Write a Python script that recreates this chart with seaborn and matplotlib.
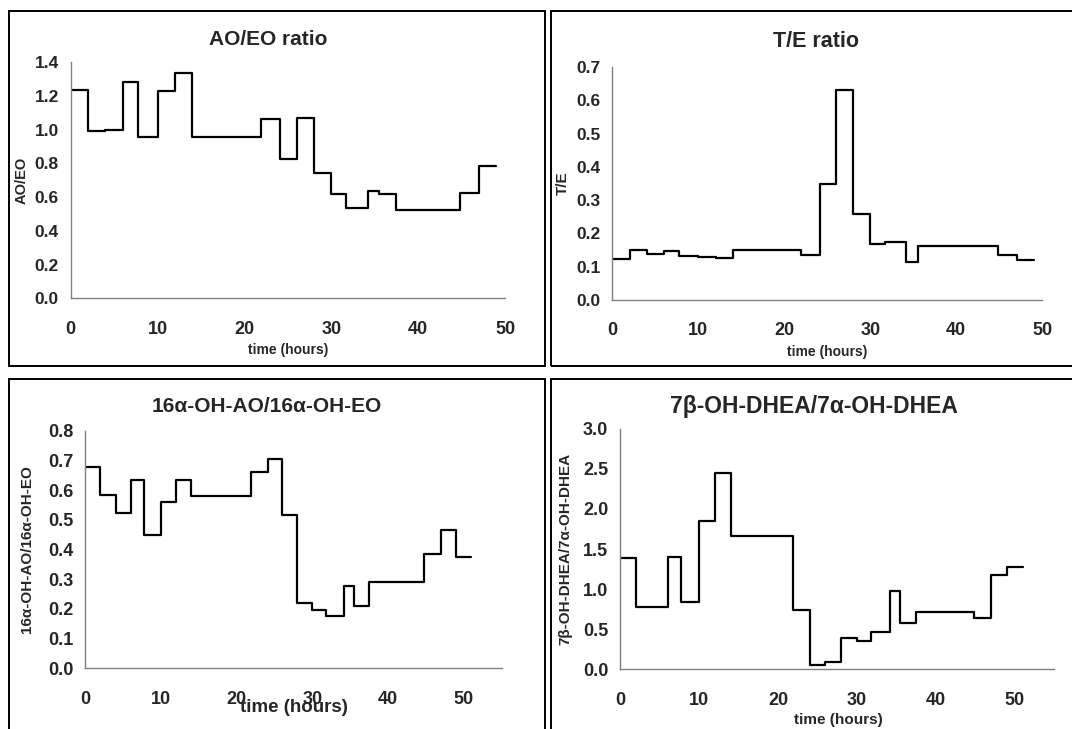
import numpy as np
import pandas as pd
import matplotlib
matplotlib.use("Agg")
import matplotlib.pyplot as plt
from matplotlib.patches import Rectangle
from matplotlib.ticker import FormatStrFormatter, MultipleLocator
import seaborn as sns

# ---------------- data ----------------
t_top = [0, 2, 4, 6, 7.75, 10, 12, 14, 21.9, 24.1, 26, 28, 30, 31.75, 34.2, 35.5, 37.5, 44.8, 47, 49]
ao_eo = [1.234, 0.995, 1.0, 1.285, 0.955, 1.232, 1.335, 0.959, 1.066, 0.827, 1.072,
         0.744, 0.621, 0.534, 0.639, 0.621, 0.524, 0.627, 0.787]
t_e = [0.124, 0.151, 0.137, 0.148, 0.132, 0.129, 0.126, 0.151, 0.135, 0.349, 0.63,
       0.257, 0.167, 0.175, 0.114, 0.162, 0.162, 0.135, 0.12]

t_bot = [0, 2, 4, 6, 7.75, 10, 12, 14, 21.9, 24.1, 26, 28, 30, 31.75, 34.2, 35.5, 37.5, 44.8, 47, 49, 51]
oh16 = [0.678, 0.582, 0.524, 0.634, 0.45, 0.561, 0.634, 0.579, 0.66, 0.704, 0.515,
        0.22, 0.196, 0.175, 0.277, 0.211, 0.29, 0.386, 0.465, 0.374]
dhea7 = [1.392, 0.781, 0.781, 1.404, 0.839, 1.849, 2.451, 1.662, 0.735, 0.054, 0.087,
         0.39, 0.357, 0.461, 0.98, 0.582, 0.719, 0.636, 1.176, 1.28]

titles = ["AO/EO ratio", "T/E ratio", "16\u03b1-OH-AO/16\u03b1-OH-EO", "7\u03b2-OH-DHEA/7\u03b1-OH-DHEA"]
ylabels = ["AO/EO", "T/E", "16\u03b1-OH-AO/16\u03b1-OH-EO", "7\u03b2-OH-DHEA/7\u03b1-OH-DHEA"]
xlabel = "time (hours)"

# ---------------- style ----------------
sns.set_style("white")
plt.rcParams["font.family"] = ["Liberation Sans", "DejaVu Sans"]
plt.rcParams["font.weight"] = "bold"

W, H = 1072, 729
fig = plt.figure(figsize=(W / 100, H / 100), dpi=100)

def px_axes(x0, x1, y_top, y_bot):
    return fig.add_axes([x0 / W, 1 - y_bot / H, (x1 - x0) / W, (y_bot - y_top) / H])

panels = [
    dict(edges=t_top, vals=ao_eo, ax=(70.7, 505.0, 62.3, 298.3), xmax=50, ymax=1.4, ystep=0.2,
         title_xy=(268.5, 39.5), tsize=15, xl=(0.5, -0.219, 10), yl=(-0.112, 10.5), xtick=13, ytick=12.5),
    dict(edges=t_top, vals=t_e, ax=(612.3, 1042.3, 67.0, 300.0), xmax=50, ymax=0.7, ystep=0.1,
         title_xy=(815.8, 41.7), tsize=15.5, xl=(0.5, -0.222, 10), yl=(-0.116, 11), xtick=13, ytick=12.5),
    dict(edges=t_bot, vals=oh16, ax=(85.3, 501.7, 430.7, 668.3), xmax=55, ymax=0.8, ystep=0.1,
         title_xy=(267.0, 406.7), tsize=15, xl=(0.5, -0.165, 13.5), yl=(-0.141, 11), xtick=13, ytick=13),
    dict(edges=t_bot, vals=dhea7, ax=(620.3, 1054.3, 428.7, 669.3), xmax=55, ymax=3.0, ystep=0.5,
         title_xy=(813.7, 406.0), tsize=16.5, xl=(0.502, -0.211, 11), yl=(-0.127, 11), xtick=13, ytick=13),
]

gray = "#808080"
for i, p in enumerate(panels):
    ax = px_axes(*p["ax"])
    df = pd.DataFrame({"time": p["edges"], "value": list(p["vals"]) + [p["vals"][-1]]})
    sns.lineplot(data=df, x="time", y="value", ax=ax, color="black", linewidth=1.6,
                 drawstyle="steps-post", estimator=None, sort=False)
    ax.set_xlim(0, p["xmax"])
    ax.set_ylim(0, p["ymax"])
    ax.yaxis.set_major_locator(MultipleLocator(p["ystep"]))
    ax.yaxis.set_major_formatter(FormatStrFormatter("%.1f"))
    ax.xaxis.set_major_formatter(FormatStrFormatter("%d"))
    ax.set_xticks([v for v in range(0, 51, 10)])
    for s in ["top", "right"]:
        ax.spines[s].set_visible(False)
    for s in ["left", "bottom"]:
        ax.spines[s].set_color(gray)
        ax.spines[s].set_linewidth(1.0)
    ax.tick_params(axis="both", direction="out", length=3.6, width=0.9, color=gray)
    ax.tick_params(axis="x", labelsize=p["xtick"], pad=12.5)
    ax.tick_params(axis="y", labelsize=p["ytick"], pad=5)
    for lab in ax.get_xticklabels() + ax.get_yticklabels():
        lab.set_fontweight("bold")
    ax.set_xlabel(xlabel, fontsize=p["xl"][2], fontweight="bold", va="center")
    ax.xaxis.set_label_coords(p["xl"][0], p["xl"][1])
    ax.set_ylabel(ylabels[i], fontsize=p["yl"][1], fontweight="bold", va="center")
    ax.yaxis.set_label_coords(p["yl"][0], 0.5)
    fig.text(p["title_xy"][0] / W, 1 - p["title_xy"][1] / H, titles[i], ha="center", va="center",
             fontsize=p["tsize"], fontweight="bold")
    ax.set_facecolor("white")

# panel frames
frames = [(9, 544.7, 11, 366.3), (550.7, 1085, 11, 366.3), (9, 544.7, 379.3, 745), (550.7, 1085, 379.3, 745)]
for x0, x1, y0, y1 in frames:
    fig.add_artist(Rectangle((x0 / W, 1 - y1 / H), (x1 - x0) / W, (y1 - y0) / H,
                             transform=fig.transFigure, fill=False, edgecolor="black", linewidth=1.4,
                             clip_on=False))

fig.savefig("out.png", dpi=100, facecolor="white")
